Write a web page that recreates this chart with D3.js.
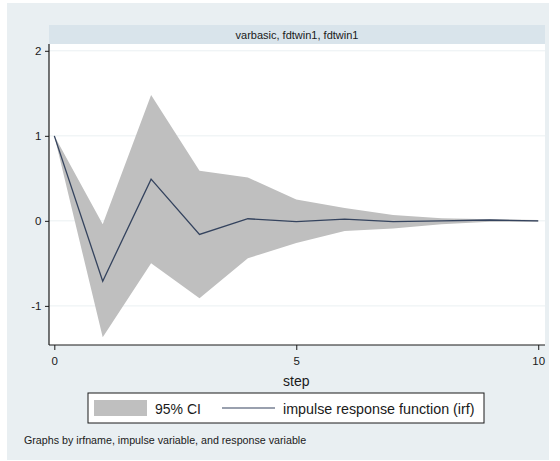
<!DOCTYPE html>
<html>
<head>
<meta charset="utf-8">
<script src="https://cdn.jsdelivr.net/npm/d3@7"></script>
<style>
  html, body { margin: 0; padding: 0; background: #ffffff; }
  svg { display: block; }
  text { font-family: "Liberation Sans", Arial, sans-serif; fill: #1a1a1a; }
</style>
</head>
<body>
<svg id="chart" width="560" height="461"></svg>
<script>
// Impulse response of fdtwin1 to a shock in fdtwin1 (varbasic), with 95% CI
const steps = [0, 1, 2, 3, 4, 5, 6, 7, 8, 9, 10];
const irf   = [1, -0.71, 0.49, -0.16, 0.025, -0.01, 0.02, -0.01, 0.0, 0.01, 0.0];
const ciUpper = [1, -0.04, 1.48, 0.59, 0.51, 0.25, 0.15, 0.07, 0.03, 0.02, 0.01];
const ciLower = [1, -1.37, -0.50, -0.91, -0.44, -0.26, -0.12, -0.09, -0.04, -0.01, -0.01];
const xTicks = [0, 5, 10];
const yTicks = [-1, 0, 1, 2];
const panelTitle = "varbasic, fdtwin1, fdtwin1";
const legendLabels = ["95% CI", "impulse response function (irf)"];

const svg = d3.select("#chart");

// outer graph region
svg.append("rect").attr("x", 7).attr("y", 3).attr("width", 542).attr("height", 457)
  .attr("fill", "#e9eff2");

const plot = { left: 49, right: 545, top: 44, bottom: 345 };

const x = d3.scaleLinear().domain([-0.11, 10.14]).range([plot.left, plot.right]);
const y = d3.scaleLinear().domain([-1.46, 2.08]).range([plot.bottom, plot.top]);

// panel title strip
svg.append("rect").attr("x", plot.left).attr("y", 25).attr("width", plot.right - plot.left).attr("height", 19)
  .attr("fill", "#d9e4eb");
svg.append("text").attr("x", (plot.left + plot.right) / 2).attr("y", 38.5)
  .attr("text-anchor", "middle").attr("font-size", 11).text(panelTitle);

// plot region
svg.append("rect").attr("x", plot.left).attr("y", plot.top)
  .attr("width", plot.right - plot.left).attr("height", plot.bottom - plot.top)
  .attr("fill", "#ffffff");

// grid lines
svg.append("g").selectAll("line").data(yTicks).join("line")
  .attr("x1", plot.left).attr("x2", plot.right)
  .attr("y1", d => y(d)).attr("y2", d => y(d))
  .attr("stroke", "#eaf0f2").attr("stroke-width", 1);

const data = steps.map((s, i) => ({ s, irf: irf[i], lo: ciLower[i], hi: ciUpper[i] }));

// confidence band
svg.append("path").datum(data)
  .attr("d", d3.area().x(d => x(d.s)).y0(d => y(d.lo)).y1(d => y(d.hi)))
  .attr("fill", "#bfbfbf");

// irf line
svg.append("path").datum(data)
  .attr("d", d3.line().x(d => x(d.s)).y(d => y(d.irf)))
  .attr("fill", "none").attr("stroke", "#34435e").attr("stroke-width", 1.3);

// axes (plain hyphen for negative labels)
const fmt = d => String(d);
const yAxis = svg.append("g").attr("transform", `translate(${plot.left},0)`)
  .call(d3.axisLeft(y).tickValues(yTicks).tickSize(4).tickFormat(fmt));
const xAxis = svg.append("g").attr("transform", `translate(0,${plot.bottom})`)
  .call(d3.axisBottom(x).tickValues(xTicks).tickSize(5).tickFormat(fmt));
[xAxis, yAxis].forEach(g => {
  g.select(".domain").attr("stroke", "#1a1a1a").attr("stroke-width", 1.2);
  g.selectAll(".tick line").attr("stroke", "#1a1a1a");
  g.selectAll(".tick text").attr("font-size", 11.5).attr("fill", "#1a1a1a")
    .style("font-family", '"Liberation Sans", Arial, sans-serif');
});
xAxis.select(".domain").attr("d", `M${plot.left},0H${plot.right}`);
yAxis.select(".domain").attr("d", `M0,${plot.top}V${plot.bottom}`);
xAxis.selectAll(".tick text").attr("dy", "1.05em");
yAxis.selectAll(".tick text").attr("dx", "-0.05em");

// x axis title
svg.append("text").attr("x", x(5)).attr("y", 386)
  .attr("text-anchor", "middle").attr("font-size", 14).text("step");

// legend
const lg = svg.append("g");
lg.append("rect").attr("x", 88).attr("y", 393).attr("width", 396).attr("height", 30)
  .attr("fill", "#ffffff").attr("stroke", "#1a1a1a").attr("stroke-width", 1);
lg.append("rect").attr("x", 94).attr("y", 400).attr("width", 53).attr("height", 16)
  .attr("fill", "#bfbfbf");
lg.append("text").attr("x", 155).attr("y", 413.5).attr("font-size", 14).text(legendLabels[0]);
lg.append("line").attr("x1", 222).attr("x2", 275).attr("y1", 408).attr("y2", 408)
  .attr("stroke", "#34435e").attr("stroke-width", 1.2);
lg.append("text").attr("x", 283).attr("y", 413.5).attr("font-size", 14.3).text(legendLabels[1]);

// note
svg.append("text").attr("x", 24).attr("y", 444).attr("font-size", 10.7)
  .text("Graphs by irfname, impulse variable, and response variable");
</script>
</body>
</html>
